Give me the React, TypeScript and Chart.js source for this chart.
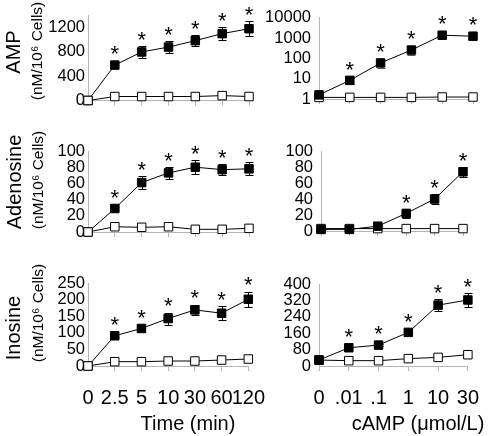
import React, { useEffect, useRef } from 'react';
import { Chart, registerables } from 'chart.js';

Chart.register(...registerables);

const FONT = "'Liberation Sans', Arial, Helvetica, sans-serif";

// ---- categories ----
const timeLabels = ['0', '2.5', '5', '10', '30', '60', '120'];
const campLabels = ['0', '.01', '.1', '1', '10', '30'];

// ---- AMP ----
const ampTimeFilled = [0, 580, 795, 875, 980, 1095, 1175];
const ampTimeFilledErr = [0, 0, 100, 95, 95, 110, 125];
const ampTimeOpen = [0, 65, 65, 65, 65, 80, 65];
const ampTimeStars = [1, 2, 3, 4, 5, 6];
const ampTimeTicks = [0, 400, 800, 1200];

const ampCampFilled = [1.6, 8.3, 60, 260, 1400, 1250];
const ampCampFilledErr = [0, 3, 25, 120, 0, 0];
const ampCampOpen = [1.2, 1.2, 1.2, 1.2, 1.25, 1.25];
const ampCampStars = [1, 2, 3, 4, 5];
const ampCampTicks = [1, 10, 100, 1000, 10000];

// ---- Adenosine ----
const adoTimeFilled = [0, 29, 61, 73, 80, 77, 78];
const adoTimeFilledErr = [0, 2, 8, 7, 8.5, 7, 8];
const adoTimeOpen = [0, 6.5, 5.8, 6.5, 3.3, 3.3, 4.5];
const adoTimeStars = [1, 2, 3, 4, 5, 6];

const adoCampFilled = [2, 2, 6, 22, 40, 74];
const adoCampFilledErr = [0, 0, 2, 5.5, 6, 6];
const adoCampOpen = [3, 3, 3, 3, 3, 3];
const adoCampStars = [3, 4, 5];
const adoTicks = [0, 20, 40, 60, 80, 100];

// ---- Inosine ----
const inoTimeFilled = [0, 91, 113, 143, 169, 159, 201];
const inoTimeFilledErr = [0, 4, 5, 18, 16, 21, 23];
const inoTimeOpen = [0, 13, 13, 15, 15, 18, 21];
const inoTimeStars = [1, 2, 3, 4, 5, 6];
const inoTimeTicks = [0, 50, 100, 150, 200, 250];

const inoCampFilled = [29, 89, 102, 164, 297, 322];
const inoCampFilledErr = [0, 4, 4, 5, 30, 34];
const inoCampOpen = [29, 26, 26, 36, 42, 55];
const inoCampStars = [1, 2, 3, 4, 5];
const inoCampTicks = [0, 80, 160, 240, 320, 400];

// ---- texts ----
const unitText = '(nM/10\u2076 Cells)';
const timeTitle = 'Time (min)';
const campTitle = 'cAMP (\u03bcmol/L)';

type Panel = {
  left: number; top: number; width: number; height: number;
  yWidth: number; padTop: number; padRight: number; xHeight: number;
  labels: string[]; filled: number[]; err: number[]; open: number[]; stars: number[];
  yType: 'linear' | 'logarithmic'; yMin: number; yMax: number; yTicks: number[];
  tickPad: number; showX: boolean; openOnTop: boolean; errColor: string;
  yTitle?: { text: string; x: number; y: number; ux: number; uy: number };
  xTitle?: { text: string; x: number; y: number };
};

const panels: Panel[] = [
  {
    left: 0, top: 0, width: 280, height: 130, yWidth: 88, padTop: 15, padRight: 31, xHeight: 29.5,
    labels: timeLabels, filled: ampTimeFilled, err: ampTimeFilledErr, open: ampTimeOpen, stars: ampTimeStars,
    yType: 'linear', yMin: 0, yMax: 1400, yTicks: ampTimeTicks, tickPad: 3, showX: false, openOnTop: true, errColor: '#000',
    yTitle: { text: 'AMP', x: 20, y: 52, ux: 42, uy: 51 },
  },
  {
    left: 250, top: 0, width: 244, height: 130, yWidth: 69, padTop: 16, padRight: 21, xHeight: 31,
    labels: campLabels, filled: ampCampFilled, err: ampCampFilledErr, open: ampCampOpen, stars: ampCampStars,
    yType: 'logarithmic', yMin: 1, yMax: 10000, yTicks: ampCampTicks, tickPad: 8, showX: false, openOnTop: false, errColor: '#555',
  },
  {
    left: 0, top: 130, width: 280, height: 130, yWidth: 88, padTop: 21, padRight: 31, xHeight: 28,
    labels: timeLabels, filled: adoTimeFilled, err: adoTimeFilledErr, open: adoTimeOpen, stars: adoTimeStars,
    yType: 'linear', yMin: 0, yMax: 100, yTicks: adoTicks, tickPad: 3, showX: false, openOnTop: true, errColor: '#000',
    yTitle: { text: 'Adenosine', x: 21, y: 52, ux: 43, uy: 50 },
  },
  {
    left: 250, top: 130, width: 244, height: 130, yWidth: 71, padTop: 21, padRight: 31, xHeight: 29,
    labels: campLabels, filled: adoCampFilled, err: adoCampFilledErr, open: adoCampOpen, stars: adoCampStars,
    yType: 'linear', yMin: 0, yMax: 100, yTicks: adoTicks, tickPad: 8, showX: false, openOnTop: false, errColor: '#000',
  },
  {
    left: 0, top: 260, width: 280, height: 176, yWidth: 88, padTop: 23, padRight: 31, xHeight: 70,
    labels: timeLabels, filled: inoTimeFilled, err: inoTimeFilledErr, open: inoTimeOpen, stars: inoTimeStars,
    yType: 'linear', yMin: 0, yMax: 250, yTicks: inoTimeTicks, tickPad: 3, showX: true, openOnTop: true, errColor: '#000',
    yTitle: { text: 'Inosine', x: 20, y: 68, ux: 43, uy: 53 },
    xTitle: { text: timeTitle, x: 188, y: 164 },
  },
  {
    left: 250, top: 260, width: 244, height: 176, yWidth: 69, padTop: 24, padRight: 15, xHeight: 70,
    labels: campLabels, filled: inoCampFilled, err: inoCampFilledErr, open: inoCampOpen, stars: inoCampStars,
    yType: 'linear', yMin: 0, yMax: 400, yTicks: inoCampTicks, tickPad: 8, showX: true, openOnTop: false, errColor: '#000',
    xTitle: { text: campTitle, x: 168, y: 164 },
  },
];

function makeDecor(p: Panel) {
  return {
    id: 'decor',
    beforeDatasetsDraw(chart: any) {
      const { ctx } = chart;
      const xs = chart.scales.x;
      const ys = chart.scales.y;
      ctx.save();
      ctx.strokeStyle = p.errColor;
      ctx.lineWidth = 1;
      p.err.forEach((e, i) => {
        if (!e) return;
        const v = p.filled[i];
        const x = Math.round(xs.getPixelForValue(i)) + 0.5;
        const y1 = Math.round(ys.getPixelForValue(v + e)) + 0.5;
        const y2 = Math.round(ys.getPixelForValue(v - e)) + 0.5;
        ctx.beginPath();
        ctx.moveTo(x, y1); ctx.lineTo(x, y2);
        ctx.moveTo(x - 4, y1); ctx.lineTo(x + 4, y1);
        ctx.moveTo(x - 4, y2); ctx.lineTo(x + 4, y2);
        ctx.stroke();
      });
      ctx.restore();
    },
    afterDraw(chart: any) {
      const { ctx } = chart;
      const xs = chart.scales.x;
      const ys = chart.scales.y;
      ctx.save();
      ctx.fillStyle = '#000';
      // asterisks
      const fs = 22;
      ctx.font = `${fs}px ${FONT}`;
      ctx.textAlign = 'center';
      ctx.textBaseline = 'alphabetic';
      p.stars.forEach((i) => {
        const v = p.filled[i];
        const e = p.err[i] || 0;
        const x = xs.getPixelForValue(i);
        const top = Math.min(ys.getPixelForValue(v + e), ys.getPixelForValue(v) - 4.5);
        ctx.fillText('*', x, top - 12 + 0.58 * fs);
      });
      // y titles
      if (p.yTitle) {
        const t = p.yTitle;
        ctx.save();
        ctx.translate(t.x, t.y);
        ctx.rotate(-Math.PI / 2);
        ctx.font = `20px ${FONT}`;
        ctx.textAlign = 'center';
        ctx.textBaseline = 'alphabetic';
        ctx.fillText(t.text, 0, 0);
        ctx.restore();
        ctx.save();
        ctx.translate(t.ux, t.uy);
        ctx.rotate(-Math.PI / 2);
        ctx.font = `15.5px ${FONT}`;
        ctx.textAlign = 'center';
        ctx.textBaseline = 'alphabetic';
        ctx.fillText(unitText, 0, 0);
        ctx.restore();
      }
      if (p.xTitle) {
        const t = p.xTitle;
        ctx.font = `20px ${FONT}`;
        ctx.textAlign = 'center';
        ctx.textBaseline = 'middle';
        ctx.fillText(t.text, t.x, t.y);
      }
      ctx.restore();
    },
  };
}

function PanelChart({ p }: { p: Panel }) {
  const ref = useRef<HTMLCanvasElement>(null);
  useEffect(() => {
    if (!ref.current) return;
    const axisGray = '#b4b4b4';
    const chart = new Chart(ref.current, {
      type: 'line',
      data: {
        labels: p.labels,
        datasets: [
          {
            data: p.filled,
            borderColor: '#000',
            borderWidth: 1,
            pointStyle: 'rect',
            pointRadius: 6,
            pointBackgroundColor: '#000',
            pointBorderColor: '#000',
            pointBorderWidth: 1,
            tension: 0,
            clip: false as any,
            order: p.openOnTop ? 1 : 0,
          },
          {
            data: p.open,
            borderColor: '#000',
            borderWidth: 1,
            pointStyle: 'rect',
            pointRadius: 6,
            pointBackgroundColor: '#fff',
            pointBorderColor: '#000',
            pointBorderWidth: 1,
            tension: 0,
            clip: false as any,
            order: p.openOnTop ? 0 : 1,
          },
        ],
      },
      options: {
        animation: false,
        responsive: false,
        maintainAspectRatio: false,
        events: [],
        layout: { autoPadding: false, padding: { left: 0, top: p.padTop, right: p.padRight, bottom: 0 } },
        plugins: { legend: { display: false }, tooltip: { enabled: false }, title: { display: false } },
        scales: {
          x: {
            type: 'category',
            offset: false,
            grid: { drawOnChartArea: false, drawTicks: true, tickLength: 5, color: axisGray, offset: false },
            border: { display: true, color: axisGray, width: 1 },
            ticks: {
              display: p.showX,
              autoSkip: false,
              maxRotation: 0,
              minRotation: 0,
              padding: 15,
              color: '#000',
              font: { family: FONT, size: 20 },
            },
            afterFit: (s: any) => { s.height = p.xHeight; },
          },
          y: {
            type: p.yType,
            min: p.yMin,
            max: p.yMax,
            grid: { drawOnChartArea: false, drawTicks: false },
            border: { display: true, color: axisGray, width: 1 },
            ticks: {
              autoSkip: false,
              padding: p.tickPad,
              color: '#000',
              font: { family: FONT, size: 16.5 },
              callback: (v: any) => String(v),
            },
            afterBuildTicks: (s: any) => { s.ticks = p.yTicks.map((v) => ({ value: v })); },
            afterFit: (s: any) => { s.width = p.yWidth; },
          },
        },
      } as any,
      plugins: [makeDecor(p)],
    });
    return () => chart.destroy();
  }, [p]);
  return (
    <canvas
      ref={ref}
      width={p.width}
      height={p.height}
      style={{ position: 'absolute', left: p.left, top: p.top, width: p.width, height: p.height }}
    />
  );
}

export default function App() {
  return (
    <div style={{ position: 'absolute', left: 0, top: 0, width: 494, height: 436, background: '#fff', overflow: 'hidden' }}>
      {panels.map((p, i) => (
        <PanelChart key={i} p={p} />
      ))}
    </div>
  );
}
